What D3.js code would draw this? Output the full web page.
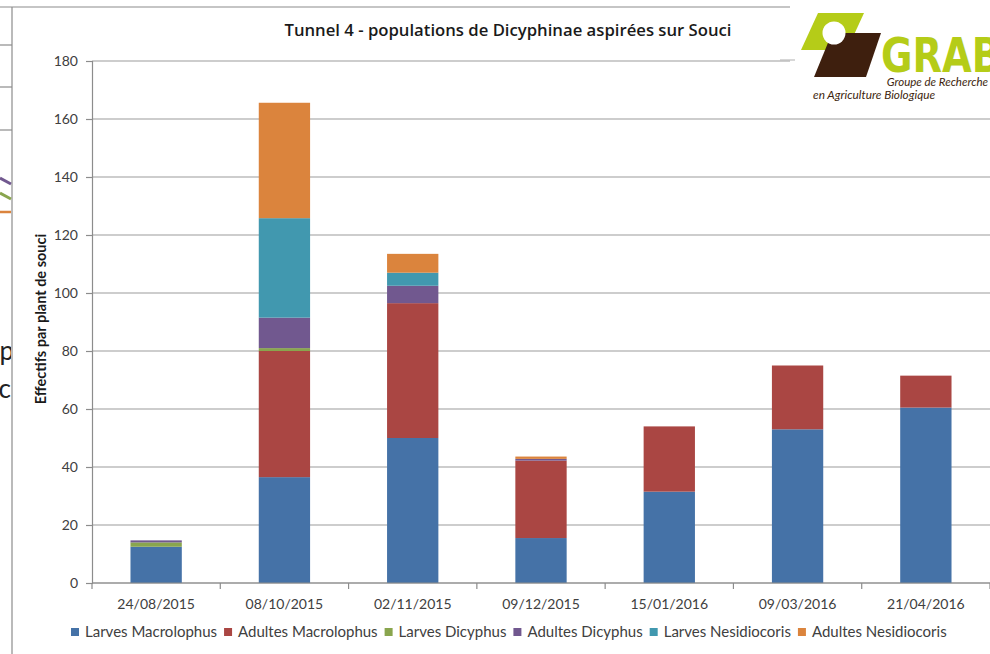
<!DOCTYPE html>
<html>
<head>
<meta charset="utf-8">
<script src="https://d3js.org/d3.v7.min.js"></script>
<style>
  body { margin: 0; background: #fff; }
  text { font-family: Lato, "Open Sans", sans-serif; }
</style>
</head>
<body>
<div id="chart"></div>
<script>
// categories and series
const dates = ["24/08/2015", "08/10/2015", "02/11/2015", "09/12/2015", "15/01/2016", "09/03/2016", "21/04/2016"]
const larvesMacrolophus = [12.5, 36.5, 50, 15.5, 31.5, 53, 60.5]
const adultesMacrolophus = [0, 43.5, 46.5, 26.7, 22.5, 22, 11]
const larvesDicyphus = [1.5, 1, 0, 0, 0, 0, 0]
const adultesDicyphus = [0.7, 10.5, 6, 0.6, 0, 0, 0]
const larvesNesidiocoris = [0, 34.3, 4.5, 0, 0, 0, 0]
const adultesNesidiocoris = [0, 39.8, 6.5, 0.8, 0, 0, 0]
const seriesNames = ["Larves Macrolophus", "Adultes Macrolophus", "Larves Dicyphus", "Adultes Dicyphus", "Larves Nesidiocoris", "Adultes Nesidiocoris"]
const yTicks = [0, 20, 40, 60, 80, 100, 120, 140, 160, 180]

const colors = ["#4572a7", "#aa4643", "#89a54e", "#71588f", "#4198af", "#db843d"]

const width = 990
const height = 654
const margin = ({ top: 61, right: 0, bottom: 71, left: 92 })

const svg = d3.select("#chart")
    .append("svg")
    .attr("width", width)
    .attr("height", height)

// build rows for the stack
const allSeries = [larvesMacrolophus, adultesMacrolophus, larvesDicyphus, adultesDicyphus, larvesNesidiocoris, adultesNesidiocoris]
const rows = dates.map((d, i) => {
    const r = { date: d }
    seriesNames.forEach((s, j) => r[s] = allSeries[j][i])
    return r
})
const stacked = d3.stack().keys(seriesNames)(rows)

const x = d3.scaleBand()
    .domain(dates)
    .range([margin.left, width - margin.right])
    .paddingInner(0.6)
    .paddingOuter(0.3)

const y = d3.scaleLinear()
    .domain([0, 180])
    .range([height - margin.bottom, margin.top])

// outer frame bits
svg.append("line").attr("x1", 0).attr("x2", 795).attr("y1", 7).attr("y2", 7)
    .attr("stroke", "#8c8c8c").attr("stroke-width", 1.2)
svg.append("line").attr("x1", 12).attr("x2", 12).attr("y1", 7).attr("y2", height)
    .attr("stroke", "#8c8c8c").attr("stroke-width", 1.2)

// gridlines
svg.append("g")
    .selectAll("line")
    .data(yTicks)
    .enter().append("line")
    .attr("x1", margin.left)
    .attr("x2", width - margin.right)
    .attr("y1", d => y(d))
    .attr("y2", d => y(d))
    .attr("stroke", "#bdbdbd")
    .attr("stroke-width", 1.3)

// y axis
const yAxis = svg.append("g")
    .attr("transform", `translate(${margin.left}, 0)`)
    .call(d3.axisLeft(y).tickValues(yTicks).tickSize(6).tickPadding(8))
yAxis.select(".domain").attr("stroke", "#8c8c8c").attr("stroke-width", 1.2)
yAxis.selectAll(".tick line").attr("stroke", "#8c8c8c").attr("stroke-width", 1.2)
yAxis.selectAll(".tick text").attr("fill", "#404040").style("font-size", "14px").style("font-family", "Lato, sans-serif")

// bars
svg.append("g")
    .selectAll("g")
    .data(stacked)
    .enter().append("g")
    .attr("fill", (d, i) => colors[i])
    .selectAll("rect")
    .data(d => d)
    .enter().append("rect")
    .attr("x", d => x(d.data.date))
    .attr("width", x.bandwidth())
    .attr("y", d => y(d[1]))
    .attr("height", d => y(d[0]) - y(d[1]))

// x axis
const xBase = height - margin.bottom
svg.append("line")
    .attr("x1", margin.left).attr("x2", width - margin.right)
    .attr("y1", xBase).attr("y2", xBase)
    .attr("stroke", "#8c8c8c").attr("stroke-width", 1.2)
svg.append("g")
    .selectAll("line")
    .data(d3.range(dates.length + 1))
    .enter().append("line")
    .attr("x1", i => x.range()[0] + i * x.step())
    .attr("x2", i => x.range()[0] + i * x.step())
    .attr("y1", xBase)
    .attr("y2", xBase + 6)
    .attr("stroke", "#8c8c8c").attr("stroke-width", 1.2)
svg.append("g")
    .selectAll("text")
    .data(dates)
    .enter().append("text")
    .attr("x", d => x(d) + x.bandwidth() / 2)
    .attr("y", xBase + 26)
    .attr("text-anchor", "middle")
    .attr("fill", "#404040")
    .style("font-size", "14px")
    .text(d => d)

// title
svg.append("text")
    .attr("x", 508)
    .attr("y", 36)
    .attr("text-anchor", "middle")
    .attr("fill", "#1a1a1a")
    .style("font-size", "16.7px")
    .style("font-weight", "600")
    .style("font-family", "'Open Sans', sans-serif")
    .text("Tunnel 4 - populations de Dicyphinae aspirées sur Souci")

// y label
svg.append("text")
    .attr("transform", "translate(46, 319) rotate(-90)")
    .attr("text-anchor", "middle")
    .attr("fill", "#1a1a1a")
    .style("font-size", "14.5px")
    .style("font-weight", "bold")
    .text("Effectifs par plant de souci")

// legend, laid out by text length
const legend = svg.append("g").attr("transform", `translate(0, ${height - 17})`)
const items = legend.selectAll("g")
    .data(seriesNames)
    .enter().append("g")
items.append("rect")
    .attr("width", 8).attr("height", 8)
    .attr("y", -9)
    .attr("fill", (d, i) => colors[i])
items.append("text")
    .attr("x", 14)
    .attr("y", 0)
    .attr("fill", "#404040")
    .style("font-size", "15px")
    .text(d => d)
let lx = 71
items.each(function () {
    d3.select(this).attr("transform", `translate(${lx}, 0)`)
    lx += 14 + d3.select(this).select("text").node().getComputedTextLength() + 7
})

// GRAB logo
const logo = svg.append("g")
logo.append("rect").attr("x", 790).attr("y", 0).attr("width", 200).attr("height", 104).attr("fill", "#fff")
logo.append("path").attr("d", "M818,13 L864,13 L847,50 L801,50 Z").attr("fill", "#b5cc18")
logo.append("path").attr("d", "M832,33 L881,33 L866,77 L814,77 Z").attr("fill", "#3e1f0e")
logo.append("circle").attr("cx", 834).attr("cy", 33).attr("r", 11.5).attr("fill", "#fff")
logo.append("text").attr("transform", "translate(881, 72) scale(0.8, 1)")
    .attr("fill", "#b5cc18").style("font-size", "48px").style("font-weight", "bold")
    .style("font-family", "'DejaVu Sans', sans-serif")
    .text("GRAB")
logo.append("text").attr("x", 988).attr("y", 86).attr("text-anchor", "end")
    .attr("fill", "#3e1f0e").style("font-size", "11.5px").style("font-style", "italic")
    .text("Groupe de Recherche")
logo.append("text").attr("x", 813).attr("y", 99)
    .attr("fill", "#3e1f0e").style("font-size", "11.8px").style("font-style", "italic")
    .text("en Agriculture Biologique")
svg.append("line").attr("x1", 780).attr("x2", 795).attr("y1", 60).attr("y2", 60)
    .attr("stroke", "#bdbdbd").attr("stroke-width", 1.2)

// slivers of the slide behind, on the far left
const left = svg.append("g")
left.selectAll("line.sep")
    .data([45, 87, 130])
    .enter().append("line")
    .attr("x1", 0).attr("x2", 12).attr("y1", d => d).attr("y2", d => d)
    .attr("stroke", "#8c8c8c").attr("stroke-width", 1.2)
left.append("line").attr("x1", 0).attr("x2", 11).attr("y1", 178).attr("y2", 184)
    .attr("stroke", "#71588f").attr("stroke-width", 3)
left.append("line").attr("x1", 0).attr("x2", 11).attr("y1", 193).attr("y2", 199)
    .attr("stroke", "#89a54e").attr("stroke-width", 3)
left.append("line").attr("x1", 0).attr("x2", 11).attr("y1", 212).attr("y2", 212)
    .attr("stroke", "#db843d").attr("stroke-width", 2.5)
svg.append("clipPath").attr("id", "leftclip")
    .append("rect").attr("x", 0).attr("y", 0).attr("width", 11).attr("height", height)
left.append("text").attr("x", 14).attr("y", 360).attr("text-anchor", "end")
    .attr("clip-path", "url(#leftclip)")
    .attr("fill", "#222").style("font-size", "26px").text("op")
left.append("text").attr("x", 11).attr("y", 398).attr("text-anchor", "end")
    .attr("clip-path", "url(#leftclip)")
    .attr("fill", "#222").style("font-size", "26px").text("c")
</script>
</body>
</html>
